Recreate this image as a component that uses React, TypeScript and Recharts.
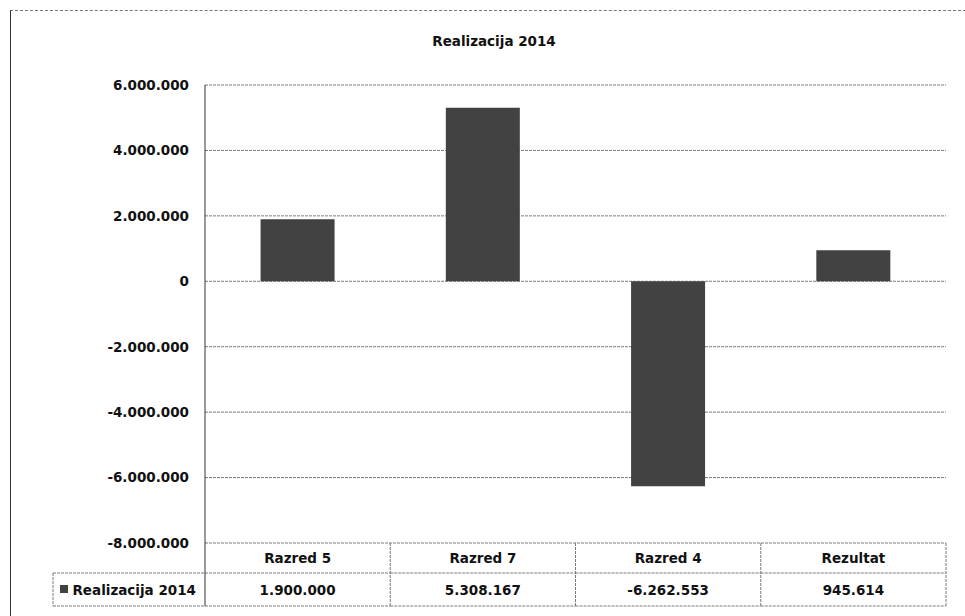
import React from "react";
import { BarChart, Bar, XAxis, YAxis, CartesianGrid } from "recharts";

const categories = ["Razred 5", "Razred 7", "Razred 4", "Rezultat"];
const values = [1900000, 5308167, -6262553, 945614];
const yTicks = [-8000000, -6000000, -4000000, -2000000, 0, 2000000, 4000000, 6000000];
const seriesName = "Realizacija 2014";
const title = "Realizacija 2014";

const data = categories.map((c, i) => ({ name: c, value: values[i] }));

const W = 965;
const H = 616;
const MARGIN = { top: 85, right: 19, bottom: 0, left: 0 };
const Y_AXIS_W = 205;
const X_AXIS_H = 73;
const PLOT_W = W - MARGIN.left - MARGIN.right - Y_AXIS_W;
const BAND = PLOT_W / categories.length;

const FONT = "'DejaVu Sans', sans-serif";
const LINE = "#7a7a7a";
const DASH = "3 1";
const BAR = "#424242";

const fmt = (v: number) => {
  const s = Math.abs(Math.round(v)).toString().replace(/\B(?=(\d{3})+(?!\d))/g, ".");
  return (v < 0 ? "-" : "") + s;
};

const YTick = (props: any) => {
  const { x, y, payload } = props;
  return (
    <text x={x} y={y} dy="0.36em" textAnchor="end" fontFamily={FONT} fontWeight="bold" fontSize={13.5} fill="#111">
      {fmt(payload.value)}
    </text>
  );
};

const XTick = (props: any) => {
  const { x, y, payload, index } = props;
  const left = x - BAND / 2;
  const right = x + BAND / 2;
  const rowTop = y;
  const rowMid = y + 30;
  const rowBot = y + 63;
  return (
    <g>
      <line x1={right} x2={right} y1={rowTop} y2={rowBot} stroke={LINE} strokeDasharray={DASH} />
      <line x1={left} x2={right} y1={rowMid} y2={rowMid} stroke={LINE} strokeDasharray={DASH} />
      <line x1={left} x2={right} y1={rowBot} y2={rowBot} stroke={LINE} strokeDasharray={DASH} />
      <text x={x} y={rowTop + 20} textAnchor="middle" fontFamily={FONT} fontWeight="bold" fontSize={13.5} fill="#111">
        {payload.value}
      </text>
      <text x={x} y={rowMid + 22} textAnchor="middle" fontFamily={FONT} fontWeight="bold" fontSize={13.5} fill="#111">
        {fmt(values[index])}
      </text>
      {index === 0 && (
        <g>
          <line x1={left} x2={left} y1={rowTop} y2={rowBot} stroke="#333" />
          <line x1={53} x2={left} y1={rowMid} y2={rowMid} stroke={LINE} strokeDasharray={DASH} />
          <line x1={53} x2={left} y1={rowBot} y2={rowBot} stroke={LINE} strokeDasharray={DASH} />
          <line x1={53} x2={53} y1={rowMid} y2={rowBot} stroke={LINE} strokeDasharray={DASH} />
          <rect x={60} y={rowMid + 12} width={8} height={8} fill={BAR} />
          <text x={left - 9} y={rowMid + 22} textAnchor="end" fontFamily={FONT} fontWeight="bold" fontSize={13.5} fill="#111">
            {seriesName}
          </text>
        </g>
      )}
    </g>
  );
};

export default function App() {
  return (
    <div style={{ position: "absolute", left: 0, top: 0, width: W, height: H, overflow: "hidden", background: "#fff" }}>
      <div
        style={{
          position: "absolute",
          left: 10,
          top: 10,
          width: W + 20,
          height: H + 20,
          borderLeft: "1.5px solid #333",
          borderTop: "1px dashed #777",
        }}
      />
      <div
        style={{
          position: "absolute",
          left: 494 - 150,
          width: 300,
          top: 33,
          textAlign: "center",
          fontFamily: FONT,
          fontWeight: "bold",
          fontSize: 13.5,
          color: "#111",
        }}
      >
        {title}
      </div>
      <BarChart width={W} height={H} data={data} margin={MARGIN} barCategoryGap="30%">
        <CartesianGrid vertical={false} stroke={LINE} strokeDasharray={DASH} />
        <XAxis
          dataKey="name"
          axisLine={false}
          tickLine={false}
          tickSize={0}
          tickMargin={0}
          height={X_AXIS_H}
          interval={0}
          tick={<XTick />}
        />
        <YAxis
          domain={[-8000000, 6000000]}
          ticks={yTicks}
          width={Y_AXIS_W}
          tickLine={false}
          tickSize={0}
          tickMargin={16}
          axisLine={{ stroke: "#333" }}
          interval={0}
          tick={<YTick />}
        />
        <Bar dataKey="value" name={seriesName} fill={BAR} isAnimationActive={false} />
      </BarChart>
    </div>
  );
}
